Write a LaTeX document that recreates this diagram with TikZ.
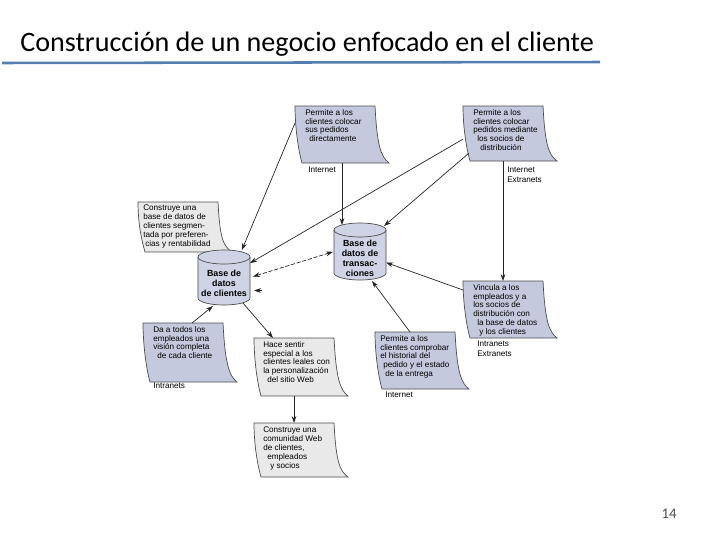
\documentclass[tikz,border=0pt]{standalone}
\usepackage{fontspec}
\setmainfont{Liberation Sans}
\newfontfamily\titulofont{Carlito}
\usepackage{tikz}
\usetikzlibrary{positioning,calc,arrows.meta}

\newdimen\pxl \pxl=0.7113pt

\definecolor{azulhoja}{RGB}{196,201,222}
\definecolor{grishoja}{RGB}{233,233,233}
\definecolor{azulcil}{RGB}{206,212,229}
\definecolor{azullinea}{RGB}{84,125,176}

\tikzset{
  >={Stealth[length=5pt,width=3.4pt]},
  hoja/.style={anchor=north west, inner sep=0pt, outer sep=0pt, minimum width=80\pxl, minimum height=#1\pxl},
  hoja/.default=57,
  texto/.style={anchor=north west, inner sep=0pt, align=left, font=\fontsize{5.8}{6.3}\selectfont},
  etiqueta/.style={anchor=north west, inner sep=0pt, align=left, font=\fontsize{5.8}{7}\selectfont},
  cil/.style={inner sep=0pt, outer sep=0pt, minimum width=52\pxl, minimum height=#1\pxl},
  ciltexto/.style={inner sep=0pt, align=center, font=\fontsize{6.3}{7.2}\selectfont\bfseries},
  flecha/.style={->, line width=0.5pt, black!85}
}

% hoja con la esquina inferior derecha levantada
\newcommand{\hoja}[2]{%
  \filldraw[draw=black!70, line width=0.5pt, fill=#2]
    (#1.north west) -- (#1.north east)
    .. controls ($(#1.north east)+(2,40)$) and ($(#1.south east)+(6,-6)$) .. ($(#1.south east)+(14,0)$)
    -- ($(#1.south west)+(7,0)$)
    .. controls ($(#1.south west)+(3,-14)$) and ($(#1.north west)+(0,20)$) .. (#1.north west) -- cycle;}

% base de datos
\newcommand{\cilindro}[1]{%
  \filldraw[draw=black!70, line width=0.5pt, fill=azulcil]
    ($(#1.north west)+(0,7)$) -- ($(#1.south west)+(0,-7)$)
    arc[start angle=180, end angle=0, x radius=26, y radius=7]
    -- ($(#1.north east)+(0,7)$)
    arc[start angle=0, end angle=-180, x radius=26, y radius=7] -- cycle;
  \draw[black!70, line width=0.5pt] ($(#1.north west)+(0,7)$)
    arc[start angle=180, end angle=0, x radius=26, y radius=7];}

\begin{document}
\begin{tikzpicture}[x=0.025cm, y=-0.025cm]
  \useasboundingbox (0,0) rectangle (720,540);

  % titulo
  \node[anchor=base west, inner sep=0pt, font=\titulofont\fontsize{20}{22}\selectfont] (titulo) at (20,51)
    {Construcción de un negocio enfocado en el cliente};
  \draw[azullinea, line width=1.8pt] (2,63) -- (600,62);
  \node[font=\titulofont\fontsize{10.5}{12}\selectfont, text=black!70] (pagina) at (669,514) {14};

  % hojas
  \node[hoja] (d1) at (295,106) {};
  \hoja{d1}{azulhoja}
  \node[texto, below right=3\pxl and 10\pxl of d1.north west] (d1t)
    {Permite a los\\clientes colocar\\sus pedidos\\\hspace*{4\pxl}directamente};

  \node[hoja=55] (d2) at (463,106) {};
  \hoja{d2}{azulhoja}
  \node[texto, below right=3\pxl and 10\pxl of d2.north west] (d2t)
    {Permite a los\\clientes colocar\\pedidos mediante\\\hspace*{4\pxl}los socios de\\\hspace*{7\pxl}distribución};

  \node[hoja=50] (d3) at (138,202) {};
  \hoja{d3}{grishoja}
  \node[texto, below right=3\pxl and 5\pxl of d3.north west] (d3t)
    {Construye una\\base de datos de\\clientes segmen-\\tada por preferen-\\\hspace*{2\pxl}cias y rentabilidad};

  \node[hoja] (d5) at (463,281) {};
  \hoja{d5}{azulhoja}
  \node[texto, below right=3\pxl and 10\pxl of d5.north west] (d5t)
    {Vincula a los\\empleados y a\\los socios de\\distribución con\\\hspace*{4\pxl}la base de datos\\\hspace*{6\pxl}y los clientes};

  \node[hoja=59] (d6) at (143,323) {};
  \hoja{d6}{azulhoja}
  \node[texto, below right=3\pxl and 10\pxl of d6.north west] (d6t)
    {Da a todos los\\empleados una\\visión completa\\\hspace*{4\pxl}de cada cliente};

  \node[hoja=58] (d7) at (254,338) {};
  \hoja{d7}{grishoja}
  \node[texto, below right=3\pxl and 9\pxl of d7.north west] (d7t)
    {Hace sentir\\especial a los\\clientes leales con\\la personalización\\\hspace*{4\pxl}del sitio Web};

  \node[hoja] (d8) at (375,332) {};
  \hoja{d8}{azulhoja}
  \node[texto, below right=3\pxl and 5\pxl of d8.north west] (d8t)
    {Permite a los\\clientes comprobar\\el historial del\\\hspace*{3\pxl}pedido y el estado\\\hspace*{5\pxl}de la entrega};

  \node[hoja=54] (d9) at (254,423) {};
  \hoja{d9}{grishoja}
  \node[texto, below right=4\pxl and 9\pxl of d9.north west] (d9t)
    {Construye una\\comunidad Web\\de clientes,\\\hspace*{4\pxl}empleados\\\hspace*{7\pxl}y socios};

  % etiquetas de red
  \node[etiqueta] (et-d1) at (308,167) {Internet};
  \node[etiqueta] (et-d2) at (507,167) {Internet\\Extranets};
  \node[etiqueta] (et-d5) at (477,341) {Intranets\\Extranets};
  \node[etiqueta] (et-d6) at (153,383) {Intranets};
  \node[etiqueta] (et-d8) at (385,392) {Internet};

  % bases de datos
  \node[cil=55] (c1) at (224,277.5) {};
  \cilindro{c1}
  \node[ciltexto] (c1t) at ($(c1.center)+(0,6)$) {Base de\\datos\\de clientes};

  \node[cil=57] (c2) at (360,251.5) {};
  \cilindro{c2}
  \node[ciltexto] (c2t) at ($(c2.center)+(0,7)$) {Base de\\datos de\\transac-\\ciones};

  % flechas
  \coordinate (c2top) at ($(c2.north)+(-18,2)$);
  \coordinate (suelta) at ($(c1.east)+(12,13)$);
  \draw[flecha] (d1.164) -- (c1.57);
  \draw[flecha] (d1.south -| c2top) -- (c2top);
  \draw[flecha] (d2.188) -- (c1.29);
  \draw[flecha] ($(d2.south west)+(6,-8)$) -- ($(c2.north east)+(-2,3)$);
  \draw[flecha] (d2.south) -- (d5.north);
  \draw[flecha, <->, dash pattern=on 3pt off 1.2pt, shorten <=3\pxl, shorten >=1\pxl] (c1.east) -- (c2.west);
  \draw[flecha] (suelta) -- ($(c1.east)+(4,13)$);
  \draw[flecha] (d5.154) -- (c2.-23);
  \draw[flecha] ($(d8.north)+(-5,0)$) -- ($(c2.south)+(12,1)$);
  \draw[flecha] ($(d6.north)+(9,0)$) -- ($(c1.south)+(-11,1)$);
  \draw[flecha] ($(c1.south)+(19,-2)$) -- ($(d7.north west)+(19,0)$);
  \draw[flecha] (d7.south) -- (d9.north);
\end{tikzpicture}
\end{document}
